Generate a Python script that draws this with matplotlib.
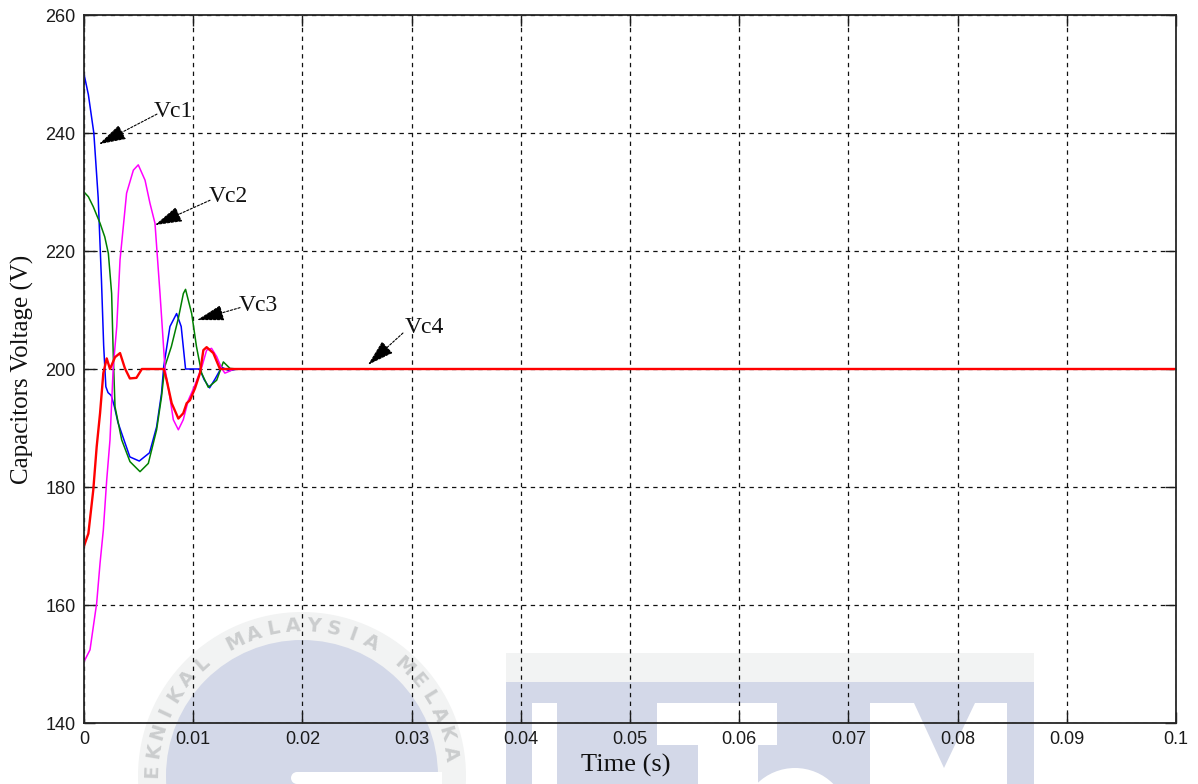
import matplotlib
matplotlib.use("Agg")
import matplotlib.pyplot as plt
from matplotlib.patches import Circle, Rectangle, Polygon
from matplotlib.ticker import FixedLocator, FixedFormatter
import numpy as np

# ---------------- data ----------------
# Time (s) and capacitor voltages (V)
vc1_t = [0, 0.0004, 0.0009, 0.0013, 0.0016, 0.0018, 0.0020, 0.0022, 0.0025,
         0.0028, 0.0031, 0.00345, 0.0042, 0.00506, 0.0060, 0.00665, 0.0071,
         0.0073, 0.00787, 0.00848, 0.0089, 0.0093, 0.0106, 0.0110, 0.0115,
         0.0120, 0.0126, 0.0133, 0.0140, 0.1]
vc1_v = [250, 246.5, 240, 229, 215, 204, 197, 196, 195.5,
         193.5, 191, 189.1, 185.1, 184.4, 185.8, 190.2, 195.9,
         200.4, 207.2, 209.4, 207.2, 200, 200, 198.2, 196.8,
         198.3, 200.3, 199.7, 200, 200]

vc2_t = [0, 0.00055, 0.00116, 0.00147, 0.00177, 0.00208, 0.00238, 0.00268,
         0.0030, 0.0033, 0.0039, 0.00452, 0.00497, 0.00559, 0.00604, 0.0065,
         0.00696, 0.00742, 0.0078, 0.00818, 0.00864, 0.00909, 0.00955, 0.0101,
         0.0108, 0.01123, 0.01168, 0.01215, 0.01261, 0.0129, 0.0133, 0.0137, 0.1]
vc2_v = [150.4, 152.4, 160.3, 167.1, 172.7, 181.2, 188, 200.4,
         207.2, 218.5, 229.8, 233.7, 234.6, 232, 228.1, 224.7,
         212.8, 200, 196, 191.4, 189.7, 191.4, 194.7, 197,
         200.4, 203.2, 203.5, 202.1, 200.1, 199.3, 199.6, 200, 200]

vc3_t = [0, 0.0004, 0.00085, 0.00147, 0.0019, 0.00223, 0.00253, 0.00269,
         0.00284, 0.00345, 0.00421, 0.00513, 0.00589, 0.00665, 0.0071, 0.0074,
         0.0080, 0.00864, 0.0091, 0.0093, 0.00986, 0.0103, 0.01077, 0.01138,
         0.01215, 0.01276, 0.01337, 0.0140, 0.1]
vc3_v = [230, 229.2, 227.5, 224.7, 222.4, 219.6, 212.8, 201.7,
         193.6, 188, 184.3, 182.6, 184, 189.7, 195.3, 200.4,
         203.8, 208.6, 212.8, 213.5, 209.4, 203.8, 199.3, 196.9,
         198.1, 201.2, 200.1, 200, 200]

vc4_t = [0, 0.0004, 0.00085, 0.00116, 0.00147, 0.00177, 0.00208, 0.00238,
         0.00284, 0.0033, 0.00375, 0.0042, 0.0048, 0.0053, 0.0073, 0.00757,
         0.00803, 0.00864, 0.00909, 0.0094, 0.0097, 0.01016, 0.01062, 0.01093,
         0.01123, 0.01184, 0.01245, 0.1]
vc4_v = [170, 172.1, 179.5, 186.8, 192.5, 199.3, 201.8, 200,
         202, 202.7, 200.1, 198.4, 198.5, 200, 200, 198.1,
         194.2, 191.6, 192.5, 194.2, 194.7, 196.7, 199.3, 203.2,
         203.7, 202.7, 200, 200]

x_ticks = [0, 0.01, 0.02, 0.03, 0.04, 0.05, 0.06, 0.07, 0.08, 0.09, 0.1]
x_labels = ["0", "0.01", "0.02", "0.03", "0.04", "0.05", "0.06", "0.07",
            "0.08", "0.09", "0.1"]
y_ticks = [140, 160, 180, 200, 220, 240, 260]
y_labels = ["140", "160", "180", "200", "220", "240", "260"]

# curve name, label position, arrow tail, arrow tip
names = ["Vc1", "Vc2", "Vc3", "Vc4"]
label_pos = [(0.00815, 243.6), (0.01319, 229.2), (0.01593, 210.8), (0.03114, 207.1)]
arrow_tail = [(0.00668, 243.2), (0.01154, 228.6), (0.01429, 210.4), (0.02921, 206.1)]
arrow_tip = [(0.00137, 238.1), (0.0065, 224.4), (0.01035, 208.3), (0.0260, 200.7)]

# ---------------- figure ----------------
W, H = 1198, 784
fig = plt.figure(figsize=(W / 100, H / 100), dpi=100)
fig.patch.set_facecolor("white")

# university logo layer drawn behind the plot (pixel coordinates)
bg = fig.add_axes([0, 0, 1, 1], zorder=0)
bg.set_xlim(0, W)
bg.set_ylim(H, 0)
bg.axis("off")
logo_blue = "#d3d8e8"
logo_grey = "#f2f3f3"
cx, cy = 302, 776
bg.add_patch(Circle((cx, cy), 164, facecolor=logo_grey, lw=0))
bg.add_patch(Circle((cx, cy), 136, facecolor=logo_blue, lw=0))
bg.add_patch(Rectangle((297, 772), 145, 14, facecolor="white", lw=0))
bg.add_patch(Circle((297, 778), 6, facecolor="white", lw=0))

# lettering around the ring; only the upper half of the ring is on the page
ring = "TEKNIKAL MALAYSIA MELAKA"
for i, ch in enumerate(ring):
    ang = -95.7 + i * 7.7
    if ch == " " or abs(ang) > 89:
        continue
    th = np.radians(ang)
    bg.text(cx + 150 * np.sin(th), cy - 150 * np.cos(th), ch,
            rotation=-ang, rotation_mode="anchor", ha="center", va="center",
            fontsize=14, fontweight="semibold", color="#cbcdce",
            family="DejaVu Sans")

bg.add_patch(Rectangle((506, 653), 528, 29, facecolor=logo_grey, lw=0))
bg.add_patch(Rectangle((506, 682), 528, 110, facecolor=logo_blue, lw=0))
bg.add_patch(Rectangle((532, 703), 25, 90, facecolor="white", lw=0))
bg.add_patch(Rectangle((657, 703), 120, 42, facecolor="white", lw=0))
bg.add_patch(Rectangle((698, 703), 60, 90, facecolor="white", lw=0))
bg.add_patch(Circle((795, 822), 54, facecolor="white", lw=0))
bg.add_patch(Rectangle((870, 703), 137, 90, facecolor="white", lw=0))
bg.add_patch(Polygon([(914, 703), (975, 703), (944, 768)], closed=True,
                     facecolor=logo_blue, lw=0))

# main plot
ax = fig.add_axes([84 / W, 1 - 723 / H, 1092 / W, 708 / H], zorder=1)
ax.set_facecolor("none")

lw = 1.1
ax.plot(vc1_t, vc1_v, color="#0000ff", lw=lw)
ax.plot(vc3_t, vc3_v, color="#008000", lw=lw)
ax.plot(vc2_t, vc2_v, color="#ff00ff", lw=lw)
ax.plot(vc4_t, vc4_v, color="#ff0000", lw=1.7)

ax.set_xlim(0, 0.1)
ax.set_ylim(140, 260)
ax.xaxis.set_major_locator(FixedLocator(x_ticks))
ax.xaxis.set_major_formatter(FixedFormatter(x_labels))
ax.yaxis.set_major_locator(FixedLocator(y_ticks))
ax.yaxis.set_major_formatter(FixedFormatter(y_labels))

ax.grid(True, color="#111111", linestyle=(0, (3.5, 3.5)), linewidth=0.9)
ax.tick_params(direction="in", length=8, width=1.0, top=True, right=True,
               labelsize=13, pad=6, colors="#1a1a1a")
for lab in ax.get_xticklabels() + ax.get_yticklabels():
    lab.set_family("Liberation Sans")
for sp in ax.spines.values():
    sp.set_linewidth(1.3)
    sp.set_color("#262626")

ax.set_xlabel("Time (s)", family="Liberation Serif", fontsize=19,
              color="#111111", va="center")
ax.xaxis.set_label_coords(0.496, -0.0593)
ax.set_ylabel("Capacitors Voltage (V)", family="Liberation Serif",
              fontsize=18, color="#111111", va="center")
ax.yaxis.set_label_coords(-0.0568, 0.5)

for name, lp, tail, tip in zip(names, label_pos, arrow_tail, arrow_tip):
    ax.text(lp[0], lp[1], name, family="Liberation Serif", fontsize=17,
            ha="center", va="center", color="#111111")
    ax.annotate("", xy=tip, xytext=tail,
                arrowprops=dict(arrowstyle="-|>,head_length=0.85,head_width=0.25",
                                color="black", lw=0.8, linestyle=(0, (2, 1.5)),
                                mutation_scale=20, shrinkA=0, shrinkB=0))

fig.savefig("out.png", dpi=100)
